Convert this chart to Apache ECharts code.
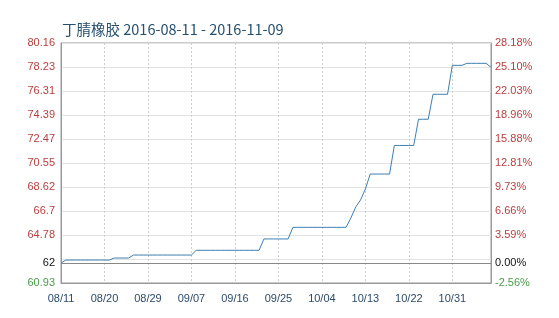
<!DOCTYPE html>
<html>
<head>
<meta charset="utf-8">
<script src="https://cdn.jsdelivr.net/npm/echarts@6/dist/echarts.min.js"></script>
<style>html,body{margin:0;padding:0;background:#fff}#c{width:559px;height:318px}</style>
</head>
<body>
<div id="c"></div>
<script>
var titleText = '丁腈橡胶 2016-08-11 - 2016-11-09';
var startDate = '2016-08-11';
var dayCount = 90;
var prices = [
  62.53,
  62.77,62.77,62.77,62.77,62.77,62.77,62.77,62.77,62.77,62.77,
  62.93,62.93,62.93,62.93,
  63.17,63.17,63.17,63.17,63.17,63.17,63.17,63.17,63.17,63.17,63.17,63.17,63.17,
  63.55,63.55,63.55,63.55,63.55,63.55,63.55,63.55,63.55,63.55,63.55,63.55,63.55,63.55,
  64.46,64.46,64.46,64.46,64.46,64.46,
  65.39,65.39,65.39,65.39,65.39,65.39,65.39,65.39,65.39,65.39,65.39,65.39,
  66.14,67.02,67.58,68.46,
  69.66,69.66,69.66,69.66,69.66,
  71.95,71.95,71.95,71.95,71.95,
  74.05,74.05,74.05,
  76.05,76.05,76.05,76.05,
  78.37,78.37,78.37,
  78.53,78.53,78.53,78.53,78.53,
  78.21
];
var basePrice = 62.53;
var baseLabel = '62';
var basePctLabel = '0.00%';
var axisMin = 60.93;
var axisMax = 80.16;
var axisStep = 1.923;
var leftLabels = ['60.93','','64.78','66.7','68.62','70.55','72.47','74.39','76.31','78.23','80.16'];
var rightLabels = ['-2.56%','','3.59%','6.66%','9.73%','12.81%','15.88%','18.96%','22.03%','25.10%','28.18%'];

var dates = [];
(function(){
  var d = new Date(startDate + 'T00:00:00Z');
  for (var i = 0; i < dayCount; i++) {
    var m = d.getUTCMonth() + 1, dd = d.getUTCDate();
    dates.push((m < 10 ? '0' : '') + m + '/' + (dd < 10 ? '0' : '') + dd);
    d.setUTCDate(d.getUTCDate() + 1);
  }
})();

var offsetData = prices.map(function(v){ return +(v - axisMin).toFixed(4); });
var span = +(axisMax - axisMin).toFixed(4);
function idx(v){ return Math.round(Number(v) / axisStep); }

var RED = '#b5403f', GREEN = '#4a9a4a', FONT = 'Liberation Sans, Arial, sans-serif';

var chart = echarts.init(document.getElementById('c'), null, {renderer: 'canvas'});
chart.setOption({
  animation: false,
  backgroundColor: '#fff',
  title: {
    text: titleText, left: 57, top: 17,
    textStyle: {fontSize: 14.5, fontWeight: 'normal', color: '#26506f', fontFamily: 'Noto Sans CJK SC, sans-serif'}
  },
  grid: {left: 61, right: 68, top: 43, bottom: 35, show: true, borderColor: '#999', borderWidth: 1, containLabel: false},
  xAxis: {
    type: 'category', data: dates, boundaryGap: false,
    axisLine: {lineStyle: {color: '#999'}},
    axisTick: {show: false},
    axisLabel: {interval: 8, color: '#2c4b6a', fontSize: 11, fontFamily: FONT, margin: 10},
    splitLine: {show: true, interval: 8, lineStyle: {color: '#cfcfcf', type: [2, 2]}}
  },
  yAxis: [{
    type: 'value', min: 0, max: span, interval: axisStep, position: 'left',
    axisLine: {show: true, lineStyle: {color: '#999'}},
    axisTick: {show: false},
    splitLine: {show: true, lineStyle: {color: '#e3e3e3'}},
    axisLabel: {
      margin: 6, fontSize: 11, fontFamily: FONT,
      formatter: function(v){ return leftLabels[idx(v)] || ''; },
      color: function(v){ return idx(v) === 0 ? GREEN : RED; }
    }
  }, {
    type: 'value', min: 0, max: span, interval: axisStep, position: 'right',
    axisLine: {show: true, lineStyle: {color: '#999'}},
    axisTick: {show: false},
    splitLine: {show: false},
    axisLabel: {
      margin: 4, fontSize: 11, fontFamily: FONT,
      formatter: function(v){ return rightLabels[idx(v)] || ''; },
      color: function(v){ return idx(v) === 0 ? GREEN : RED; }
    }
  }],
  series: [{
    type: 'line', data: offsetData, yAxisIndex: 0,
    showSymbol: false, symbol: 'none',
    lineStyle: {color: '#3d7fb3', width: 1},
    markLine: {
      silent: true, symbol: 'none', animation: false,
      lineStyle: {color: '#888', width: 1, type: 'solid'},
      data: [
        {yAxis: +(basePrice - axisMin).toFixed(4), label: {show: true, position: 'start', formatter: baseLabel, color: '#111', fontSize: 11, fontFamily: FONT, distance: 6}},
        {yAxis: +(basePrice - axisMin).toFixed(4), label: {show: true, position: 'end', formatter: basePctLabel, color: '#111', fontSize: 11, fontFamily: FONT, distance: 4}}
      ]
    }
  }]
});
</script>
</body>
</html>
